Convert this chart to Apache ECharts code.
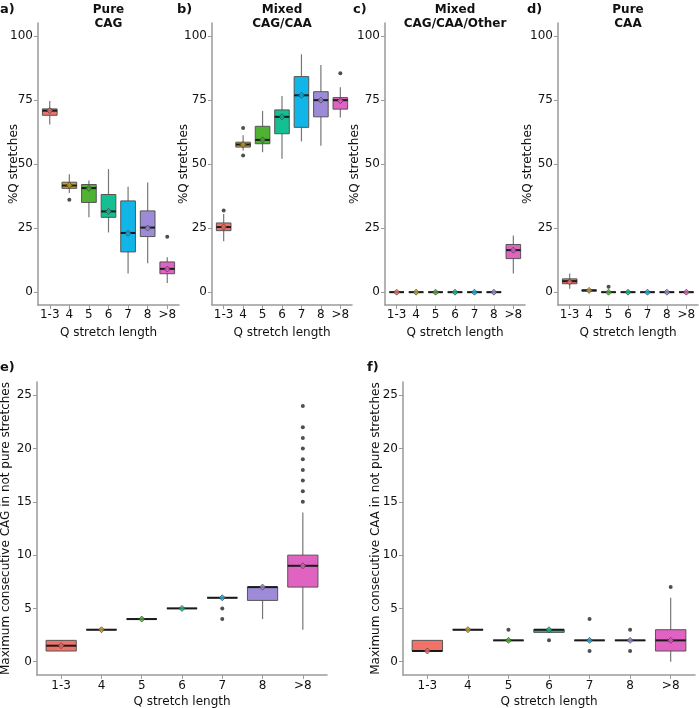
<!DOCTYPE html>
<html><head><meta charset="utf-8">
<script src="https://cdn.jsdelivr.net/npm/echarts@6/dist/echarts.min.js"></script>
<style>html,body{margin:0;padding:0;background:#fff}#c{width:699px;height:708px}</style>
</head><body><div id="c"></div>
<script>
const categories = ['1-3','4','5','6','7','8','>8'];
const catIndex = [0,1,2,3,4,5,6];
const colors = ['#F2726A','#C6A02E','#4FB233','#14BF92','#12B5E8','#9E8BD8','#E063C2'];
const pctTicks = [0,25,50,75,100];
const runTicks = [0,5,10,15,20,25];

// [min, Q1, median, Q3, max] per category
const pureCAG_box = [[65.4,69.0,70.8,71.5,74.6],[38.7,40.5,41.6,42.9,46.0],[29.2,35.0,40.6,42.0,43.6],[23.3,29.2,31.5,38.1,48.0],[7.3,15.7,23.1,35.6,41.1],[11.3,21.7,25.2,31.7,42.8],[3.6,7.2,9.1,11.8,13.6]];
const pureCAG_mean = [70.8,41.7,40.5,31.5,23.0,25.0,9.0];
const pureCAG_out = [[1,36.1],[6,21.6]];

const mixed_box = [[19.9,24.0,25.4,27.0,30.5],[55.3,56.6,57.6,58.5,61.2],[54.6,57.9,59.4,64.7,70.7],[52.0,61.8,68.4,71.1,76.5],[58.8,64.3,76.8,84.1,92.8],[57.1,68.4,74.9,78.2,88.6],[68.1,71.4,74.9,75.9,79.9]];
const mixed_mean = [25.4,57.6,59.4,68.4,76.8,74.9,74.7];
const mixed_out = [[0,31.9],[1,64.0],[1,53.3],[6,85.4]];

const other_box = [[0,0,0,0,0],[0,0,0,0,0],[0,0,0,0,0],[0,0,0,0,0],[0,0,0,0,0],[0,0,0,0,0],[7.3,13.1,16.4,18.6,22.1]];
const other_mean = [0,0,0,0,0,0,16.4];
const other_out = [];

const pureCAA_box = [[1.3,3.3,4.3,5.2,7.3],[0.2,0.4,0.7,0.9,1.2],[0,0,0,0,0],[0,0,0,0,0],[0,0,0,0,0],[0,0,0,0,0],[0,0,0,0,0]];
const pureCAA_mean = [4.0,0.7,0,0,0,0,0];
const pureCAA_out = [[2,2.1]];

const runCAG_box = [[1,1,1.5,2,2],[3,3,3,3,3],[4,4,4,4,4],[5,5,5,5,5],[6,6,6,6,6],[4,5.75,7,7,7],[3,7,9,10,14]];
const runCAG_mean = [1.5,3,4,5,6,7,9];
const runCAG_out = [[4,5],[4,4],[6,15],[6,16],[6,17],[6,18],[6,19],[6,20],[6,21],[6,22],[6,24]];

const runCAA_box = [[1,1,1,2,2],[3,3,3,3,3],[2,2,2,2,2],[2.75,2.75,3,3,3],[2,2,2,2,2],[2,2,2,2,2],[0,1,2,3,6]];
const runCAA_mean = [1,3,2,3,2,2,2];
const runCAA_out = [[2,3],[3,2],[4,4],[4,1],[5,3],[5,1],[6,7]];

const FONT = 'DejaVu Sans';
const panels = [
  {box:pureCAG_box, mean:pureCAG_mean, out:pureCAG_out, grid:{left:38,top:23,width:141,height:282}, y:[-5,105], ticks:pctTicks, yname:'%Q stretches', ygap:18, xgap:22, xmargin:4},
  {box:mixed_box, mean:mixed_mean, out:mixed_out, grid:{left:212,top:23,width:140,height:282}, y:[-5,105], ticks:pctTicks, yname:'%Q stretches', ygap:22, xgap:22, xmargin:4},
  {box:other_box, mean:other_mean, out:other_out, grid:{left:385,top:23,width:140,height:282}, y:[-5,105], ticks:pctTicks, yname:'%Q stretches', ygap:24, xgap:22, xmargin:4},
  {box:pureCAA_box, mean:pureCAA_mean, out:pureCAA_out, grid:{left:558,top:23,width:140,height:282}, y:[-5,105], ticks:pctTicks, yname:'%Q stretches', ygap:24, xgap:22, xmargin:4},
  {box:runCAG_box, mean:runCAG_mean, out:runCAG_out, grid:{left:37,top:382,width:290,height:293}, y:[-1.25,26.25], ticks:runTicks, yname:'Maximum consecutive CAG in not pure stretches', ygap:25, xgap:20.5, xmargin:5},
  {box:runCAA_box, mean:runCAA_mean, out:runCAA_out, grid:{left:403,top:382,width:292,height:293}, y:[-1.25,26.25], ticks:runTicks, yname:'Maximum consecutive CAA in not pure stretches', ygap:21, xgap:20.5, xmargin:5}
];

const axisColor = '#9a9a9a';
const grids = [], xAxes = [], yAxes = [], series = [];
panels.forEach((p, k) => {
  grids.push(Object.assign({containLabel:false, outerBoundsMode:'none'}, p.grid));
  xAxes.push({
    type:'value', gridIndex:k, min:-0.6, max:6.6,
    name:'Q stretch length', nameLocation:'middle', nameGap:p.xgap, nameMoveOverlap:false,
    nameTextStyle:{fontFamily:FONT, fontSize:12, color:'#111'},
    axisLine:{onZero:false, lineStyle:{color:axisColor, width:1.5}},
    axisTick:{show:true, length:4, lineStyle:{color:axisColor}, customValues:catIndex},
    axisLabel:{customValues:catIndex, formatter:v => categories[Math.round(v)], fontFamily:FONT, fontSize:12, color:'#111', margin:p.xmargin},
    splitLine:{show:false}
  });
  yAxes.push({
    type:'value', gridIndex:k, min:p.y[0], max:p.y[1],
    name:p.yname, nameLocation:'middle', nameGap:p.ygap, nameMoveOverlap:false,
    nameTextStyle:{fontFamily:FONT, fontSize:12, color:'#111'},
    axisLine:{show:true, onZero:false, lineStyle:{color:axisColor, width:1.5}},
    axisTick:{show:true, length:4, lineStyle:{color:axisColor}, customValues:p.ticks},
    axisLabel:{customValues:p.ticks, fontFamily:FONT, fontSize:12, color:'#111', margin:5},
    splitLine:{show:false}
  });
  series.push({
    type:'custom', xAxisIndex:k, yAxisIndex:k, z:2,
    data:p.box.map((b,i)=>[i].concat(b)),
    encode:{x:0, y:[1,2,3,4,5]},
    renderItem:(params, api) => {
      const idx = api.value(0);
      const lo = api.coord([idx, api.value(1)]);
      const q1 = api.coord([idx, api.value(2)]);
      const med = api.coord([idx, api.value(3)]);
      const q3 = api.coord([idx, api.value(4)]);
      const hi = api.coord([idx, api.value(5)]);
      const bw = api.size([0.75, 0])[0];
      const x = med[0];
      return {type:'group', children:[
        {type:'line', shape:{x1:x,y1:hi[1],x2:x,y2:lo[1]}, style:{stroke:'#777', lineWidth:1.2}},
        {type:'rect', shape:{x:x-bw/2, y:q3[1], width:bw, height:Math.max(0,q1[1]-q3[1])}, style:{fill:colors[idx], stroke:'#555', lineWidth:1}},
        {type:'line', shape:{x1:x-bw/2, y1:med[1], x2:x+bw/2, y2:med[1]}, style:{stroke:'#1a1a1a', lineWidth:2}}
      ]};
    }
  });
  series.push({
    type:'scatter', xAxisIndex:k, yAxisIndex:k, z:3,
    data:p.out, symbol:'circle', symbolSize:4,
    itemStyle:{color:'#222'}, silent:true
  });
  series.push({
    type:'scatter', xAxisIndex:k, yAxisIndex:k, z:4,
    data:p.mean.map((m,i)=>[i,m]), symbol:'diamond', symbolSize:6,
    itemStyle:{color:(q)=>colors[q.data[0]], borderColor:'#333', borderWidth:0.8}, silent:true
  });
});

const titleText = [
  {t:'Pure\nCAG', x:108.5}, {t:'Mixed\nCAG/CAA', x:282}, {t:'Mixed\nCAG/CAA/Other', x:455}, {t:'Pure\nCAA', x:628}
];
const panelLabels = [
  {t:'a)', x:0, y:3}, {t:'b)', x:177, y:3}, {t:'c)', x:353, y:3}, {t:'d)', x:527, y:3},
  {t:'e)', x:0, y:361}, {t:'f)', x:367, y:361}
];
const graphics = [];
titleText.forEach(o => graphics.push({type:'text', x:o.x, y:3, style:{text:o.t, align:'center', verticalAlign:'top', lineHeight:14, font:'bold 12px "DejaVu Sans"', fill:'#111'}}));
panelLabels.forEach(o => graphics.push({type:'text', x:o.x, y:o.y, style:{text:o.t, align:'left', verticalAlign:'top', font:'bold 13px "DejaVu Sans"', fill:'#111'}}));

const chart = echarts.init(document.getElementById('c'), null, {renderer:'canvas'});
chart.setOption({
  animation:false,
  backgroundColor:'#fff',
  textStyle:{fontFamily:FONT},
  grid:grids, xAxis:xAxes, yAxis:yAxes, series:series, graphic:graphics
});
</script></body></html>
